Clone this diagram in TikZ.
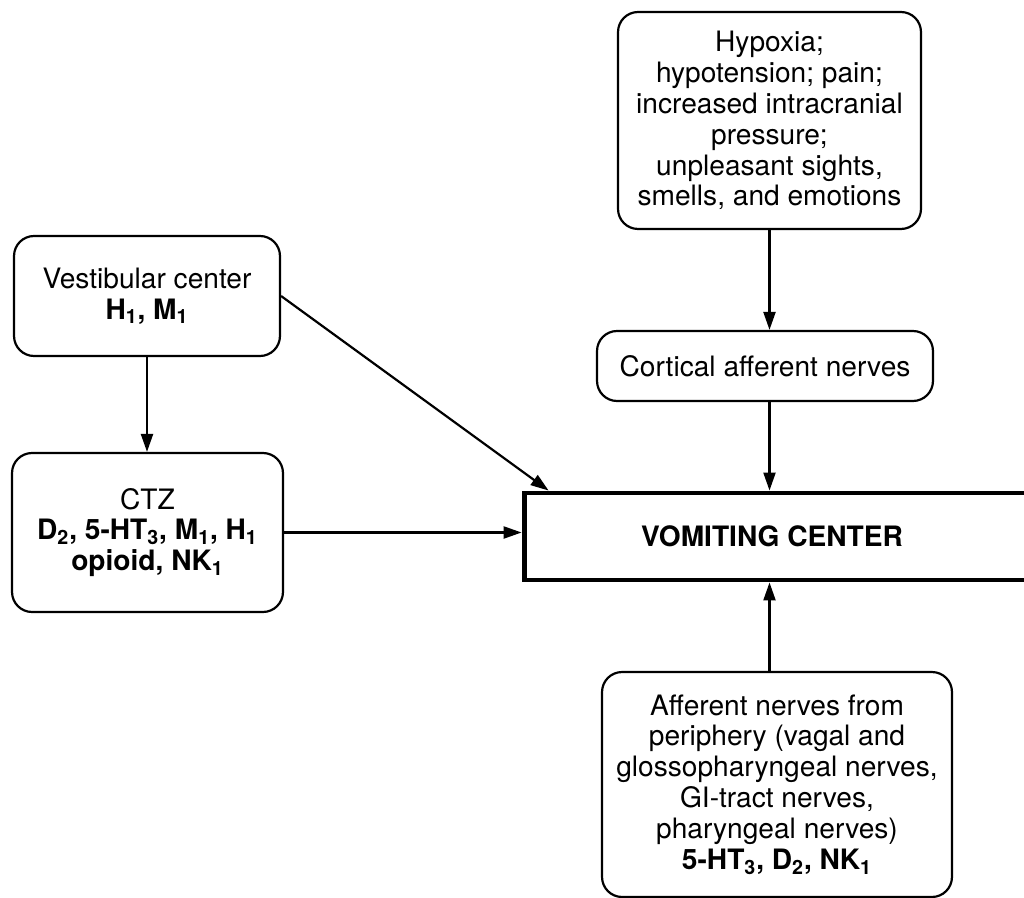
\documentclass[tikz,border=0pt]{standalone}
\usepackage{fontspec}
\setmainfont{TeX Gyre Heros}
\usetikzlibrary{arrows.meta,calc}

\begin{document}
\begin{tikzpicture}[x=0.02cm,y=-0.02cm,line width=1.25pt,
                    >={Triangle[length=0.36cm,width=0.24cm]},
                    box node/.style={draw,rounded corners=0.4cm,align=center,inner sep=0pt,
                                     font=\fontsize{16}{17.6}\selectfont},
                    center node/.style={draw,line width=2.8pt,inner sep=0pt,
                                        font=\bfseries\fontsize{16}{17.6}\selectfont}]

  \useasboundingbox (0,0) rectangle (1024,898);

  \node[box node,minimum width=6.06cm,minimum height=4.34cm] (hypoxia) at (769.5,120.5)
    {Hypoxia;\\hypotension; pain;\\increased intracranial\\pressure;\\unpleasant sights,\\smells, and emotions};
  \node[box node,minimum width=6.72cm,minimum height=1.4cm] (cortical) at (765,366)
    {Cortical afferent nerves};
  \node[box node,minimum width=5.32cm,minimum height=2.4cm] (vest) at (147,296)
    {Vestibular center\\\textbf{H\textsubscript{1}, M\textsubscript{1}}};
  \node[box node,minimum width=5.42cm,minimum height=3.18cm] (ctz) at (147.5,532.5)
    {CTZ\\\textbf{D\textsubscript{2}, 5-HT\textsubscript{3}, M\textsubscript{1}, H\textsubscript{1}}\\\textbf{opioid, NK\textsubscript{1}}};
  % box runs off the right edge of the page
  \node[center node,minimum width=10.6cm,minimum height=1.74cm] (vc) at (789,536.5)
    {VOMITING CENTER\hspace*{0.68cm}};
  \node[box node,minimum width=7cm,minimum height=4.5cm] (afferent) at (777,784.5)
    {Afferent nerves from\\periphery (vagal and\\glossopharyngeal nerves,\\GI-tract nerves,\\pharyngeal nerves)\\\textbf{5-HT\textsubscript{3}, D\textsubscript{2}, NK\textsubscript{1}}};

  \coordinate (vc corner) at ($(vc.north west)+(27,0)$);

  \path[->]
    (hypoxia.south) edge (hypoxia.south |- cortical.north)
    (hypoxia.south |- cortical.south) edge (hypoxia.south |- vc.north)
    (hypoxia.south |- afferent.north) edge (hypoxia.south |- vc.south)
    (vest.south) edge (vest.south |- ctz.north)
    (ctz.east) edge (ctz.east -| vc.west)
    (vest.east) edge (vc corner);

\end{tikzpicture}
\end{document}
